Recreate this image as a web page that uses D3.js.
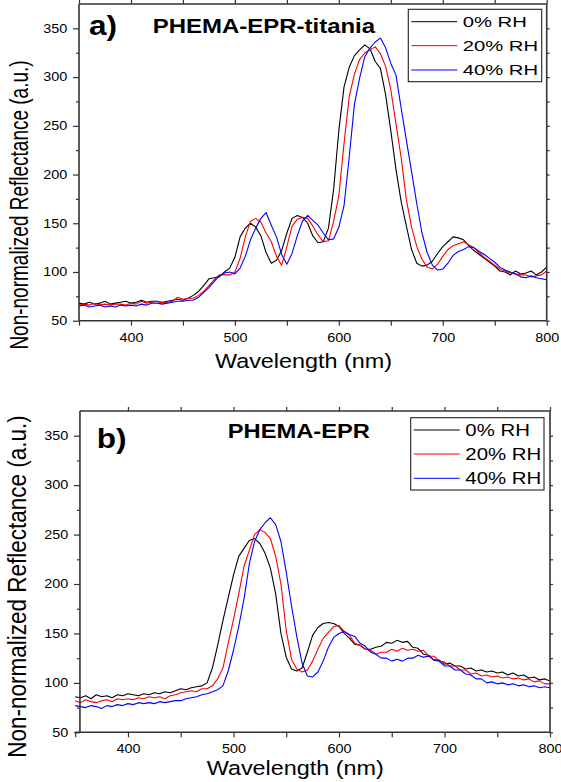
<!DOCTYPE html>
<meta charset="utf-8">
<script src="https://d3js.org/d3.v7.min.js"></script>
<style>
body { margin: 0; background: #fff; }
svg text { font-family: "Liberation Sans", Arial, sans-serif; fill: #000; }
</style>
<body>
<div id="chart"></div>
<script>

// wavelength grid, nm (5 nm steps)
var wavelength = d3.range(350, 801, 5);

var rhLabels = ["0% RH", "20% RH", "40% RH"];
var rhColors = ["#000000", "#ff0000", "#0000ff"];

var xTicks = [350, 400, 450, 500, 550, 600, 650, 700, 750, 800];
var yMajor = [50, 100, 150, 200, 250, 300, 350];
var yMinor = [75, 125, 175, 225, 275, 325];

// a) PHEMA-EPR-titania
var titania0 = [
  68, 67, 69, 67, 68, 70, 67, 68, 69, 70,
  68, 69, 71, 69, 70, 70, 69, 70, 71, 72,
  71, 73, 76, 80, 86, 93, 94, 95, 100, 104,
  115, 136, 145, 150, 146, 137, 120, 109, 112, 122,
  140, 155, 158, 156, 150, 137, 130, 131, 145, 185,
  245, 290, 310, 322, 328, 333, 329, 316, 309, 282,
  245, 205, 172, 147, 123, 109, 106, 107, 111, 119,
  126, 131, 136, 135, 133, 127, 122, 118, 114, 110,
  106, 101, 100, 97, 101, 98, 99, 101, 97, 100,
  105];
var titania20 = [
  66, 67, 66, 68, 66, 67, 66, 67, 67, 66,
  68, 67, 70, 68, 69, 70, 68, 69, 70, 74,
  72, 73, 73, 76, 80, 86, 92, 97, 97, 97,
  100, 114, 136, 152, 155, 151, 140, 131, 116, 107,
  126, 147, 154, 156, 155, 147, 138, 131, 132, 152,
  178, 232, 280, 303, 318, 325, 328, 331, 324, 311,
  287, 252, 217, 174, 146, 126, 113, 105, 103, 108,
  116, 123, 127, 129, 131, 128, 125, 120, 115, 111,
  107, 103, 101, 99, 98, 97, 97, 95, 96, 97,
  101];
var titania40 = [
  65, 66, 64, 65, 66, 64, 65, 64, 66, 65,
  66, 65, 67, 66, 68, 68, 67, 68, 69, 70,
  70, 71, 71, 74, 79, 84, 90, 96, 99, 100,
  98, 104, 116, 133, 145, 155, 161, 148, 136, 118,
  108, 119, 137, 152, 158, 153, 148, 140, 133, 134,
  146, 168, 218, 272, 299, 321, 330, 336, 340, 330,
  314, 302, 268, 235, 203, 170, 140, 120, 107, 102,
  103, 109, 117, 121, 123, 126, 125, 121, 118, 114,
  110, 105, 102, 100, 98, 95, 94, 96, 94, 93,
  92];

// b) PHEMA-EPR
var epr0 = [
  86, 85, 87, 84, 88, 86, 87, 85, 88, 87,
  89, 88, 87, 89, 88, 90, 89, 91, 90, 92,
  94, 93, 95, 96, 97, 100, 115, 138, 163, 186,
  209, 228, 236, 244, 246, 241, 231, 216, 190, 150,
  126, 114, 112, 115, 131, 148, 156, 160, 161, 160,
  157, 150, 145, 139, 138, 134, 134, 136, 137, 141,
  140, 143, 141, 142, 136, 135, 129, 128, 123, 123,
  119, 120, 117, 117, 114, 115, 112, 113, 111, 112,
  110, 111, 108, 110, 107, 108, 105, 106, 103, 104,
  102];
var epr20 = [
  82, 80, 83, 81, 80, 82, 83, 81, 84, 83,
  84, 83, 85, 84, 86, 85, 86, 84, 87, 88,
  90, 91, 92, 91, 94, 94, 97, 104, 115, 140,
  164, 190, 218, 234, 250, 255, 252, 246, 228, 200,
  153, 124, 114, 111, 113, 122, 134, 145, 151, 157,
  158, 152, 148, 140, 138, 134, 133, 129, 131, 131,
  134, 132, 135, 133, 134, 132, 133, 127, 127, 122,
  121, 117, 117, 113, 113, 109, 110, 107, 108, 106,
  107, 105, 106, 104, 105, 103, 104, 101, 102, 99,
  99];
var epr40 = [
  77, 76, 75, 77, 76, 74, 77, 76, 78, 77,
  79, 78, 80, 79, 80, 79, 81, 80, 81, 82,
  82, 84, 85, 86, 88, 89, 91, 93, 97, 112,
  133, 157, 185, 220, 243, 255, 262, 267, 260, 243,
  212, 178, 147, 120, 107, 106, 111, 122, 136, 146,
  150, 152, 149, 147, 140, 137, 131, 129, 125, 125,
  122, 124, 122, 125, 125, 128, 126, 127, 123, 122,
  117, 117, 113, 113, 109, 108, 104, 104, 100, 101,
  99, 100, 98, 99, 97, 98, 96, 97, 95, 96,
  95];

var svg = d3.select("#chart")
  .append("svg")
    .attr("width", 561)
    .attr("height", 782);

svg.append("rect").attr("width", 561).attr("height", 782).attr("fill", "#fff");

// text that is a bit wider than normal, like the picture
function wideText(g, x, y, txt, size, sx, weight, anchor, rot) {
  return g.append("text")
    .attr("transform", "translate(" + x + "," + y + ") scale(" + sx + ",1)" + (rot ? " rotate(" + rot + ")" : ""))
    .attr("font-size", size)
    .attr("font-weight", weight || "normal")
    .attr("text-anchor", anchor || "start")
    .text(txt);
}

function drawPanel(p) {
  var x = d3.scaleLinear().domain([350, 800]).range(p.xr);
  var y = d3.scaleLinear().domain([50, 375]).range(p.yr);
  var g = svg.append("g");
  var axisColor = "#333";
  var left = x(p.yAxisAt);

  var line = d3.line()
    .x(function (d, i) { return x(wavelength[i]); })
    .y(function (d) { return y(d); });

  p.series.forEach(function (s, k) {
    g.append("path")
      .datum(s)
      .attr("d", line)
      .attr("fill", "none")
      .attr("stroke", rhColors[k])
      .attr("stroke-width", 1.1)
      .attr("stroke-linejoin", "round");
  });

  // bottom axis
  var bx = g.append("g")
    .attr("transform", "translate(0," + p.yr[0] + ")")
    .call(d3.axisBottom(x).tickValues(xTicks).tickSize(5).tickSizeOuter(0)
      .tickFormat(function (d) { return d % 100 === 0 ? d : ""; }));
  bx.select(".domain").remove();
  bx.selectAll("text").attr("y", 12.5).attr("font-size", 12).attr("transform", "scale(1.2,1)");

  // top ticks
  var tx = g.append("g")
    .attr("transform", "translate(0," + p.yr[1] + ")")
    .call(d3.axisTop(x).tickValues(xTicks.filter(function (d) { return x(d) >= left; }))
      .tickSize(4).tickSizeOuter(0).tickFormat(""));
  tx.select(".domain").remove();

  // left axis
  var ly = g.append("g")
    .attr("transform", "translate(" + left + ",0)")
    .call(d3.axisLeft(y).tickValues(yMajor).tickSize(6).tickSizeOuter(0));
  ly.select(".domain").remove();
  ly.selectAll("text").attr("x", -9.8).attr("font-size", 12).attr("transform", "scale(1.2,1)");
  var lm = g.append("g")
    .attr("transform", "translate(" + left + ",0)")
    .call(d3.axisLeft(y).tickValues(yMinor).tickSize(3).tickSizeOuter(0).tickFormat(""));
  lm.select(".domain").remove();

  // right ticks
  var ry = g.append("g")
    .attr("transform", "translate(" + x(800) + ",0)")
    .call(d3.axisRight(y).tickValues(yMajor.concat(yMinor)).tickSize(3).tickSizeOuter(0).tickFormat(""));
  ry.select(".domain").remove();

  g.selectAll(".tick line").attr("stroke", axisColor).attr("stroke-width", 1.2);
  g.selectAll(".tick text").attr("fill", "#000").attr("font-family", "Liberation Sans, Arial, sans-serif");

  // frame
  var frame = [
    [x(350), p.yr[0], x(800), p.yr[0]],
    [left, p.yr[1], x(800), p.yr[1]],
    [left, p.yr[0], left, p.yr[1]],
    [x(800), p.yr[0], x(800), p.yr[1]]
  ];
  g.selectAll(".frame").data(frame).enter().append("line")
    .attr("x1", function (d) { return d[0]; })
    .attr("y1", function (d) { return d[1]; })
    .attr("x2", function (d) { return d[2]; })
    .attr("y2", function (d) { return d[3]; })
    .attr("stroke", axisColor)
    .attr("stroke-width", 1.6);

  // labels
  wideText(g, p.xlab[0], p.xlab[1], "Wavelength (nm)", 19.5, 1.2, "normal", "middle");
  wideText(g, p.ylab[0], p.ylab[1], "Non-normalized Reflectance (a.u.)", p.ylab[2], p.ylab[3], "normal", "middle", -90);
  wideText(g, p.tag[0], p.tag[1], p.tagText, 27, 1.17, "bold");
  wideText(g, p.title[0], p.title[1], p.titleText, p.title[2], p.title[3], "bold");

  // legend
  var L = p.legend;
  g.append("rect")
    .attr("x", L.x).attr("y", L.y).attr("width", L.w).attr("height", L.h)
    .attr("fill", "#fff").attr("stroke", "#222").attr("stroke-width", 1.1);
  rhLabels.forEach(function (lab, k) {
    var ly0 = L.rows[k];
    g.append("line")
      .attr("x1", L.x + 3).attr("x2", L.x + 49)
      .attr("y1", ly0).attr("y2", ly0)
      .attr("stroke", rhColors[k]).attr("stroke-width", 1);
    wideText(g, L.tx, ly0 + L.size * 0.36, lab, L.size, L.sx, "normal");
  });
}

drawPanel({
  xr: [79, 546.7], yr: [320.7, 4], yAxisAt: 350,
  series: [titania0, titania20, titania40],
  xlab: [303.5, 368.3], ylab: [28, 205, 19, 1.33],
  tag: [89, 35], tagText: "a)",
  title: [152.7, 32.7, 19.5, 1.23], titleText: "PHEMA-EPR-titania",
  legend: { x: 408.3, y: 9.3, w: 133.4, h: 72.4, rows: [21.7, 45.7, 70], tx: 462.7, size: 15, sx: 1.35 }
});

drawPanel({
  xr: [75.2, 550], yr: [732.3, 411], yAxisAt: 354.5,
  series: [epr0, epr20, epr40],
  xlab: [295.3, 774.5], ylab: [26, 586.5, 22.5, 1.16],
  tag: [96.7, 448.3], tagText: "b)",
  title: [227.7, 437.7, 21, 1.13], titleText: "PHEMA-EPR",
  legend: { x: 410.7, y: 417.7, w: 133.3, h: 72.3, rows: [430, 454, 478.3], tx: 465.3, size: 17, sx: 1.2 }
});

</script>
</body>
